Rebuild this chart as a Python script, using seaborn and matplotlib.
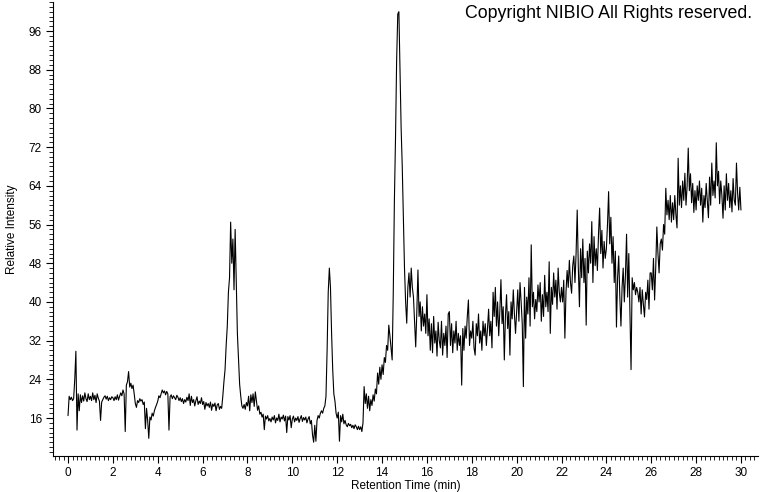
import numpy as np
import pandas as pd
import seaborn as sns
import matplotlib
matplotlib.use("Agg")
import matplotlib.pyplot as plt
from matplotlib.ticker import MultipleLocator

m00 = [16.5, 20.5, 19.8, 20.3, 19.6, 20.0, 24.0, 29.8, 13.5, 21.0, 17.5, 20.8, 19.2, 20.6, 19.5, 21.2, 20.0, 19.4, 21.0, 19.8]
m01 = [20.5, 19.6, 21.2, 19.8, 20.7, 19.2, 21.0, 20.1, 19.5, 15.5, 19.3, 19.8, 20.3, 20.6, 19.9, 20.5, 19.6, 20.2, 19.8, 20.4]
m02 = [20.2, 19.6, 20.4, 19.8, 20.8, 19.7, 20.5, 21.2, 20.6, 21.8, 21.0, 13.2, 22.8, 23.5, 25.6, 22.4, 23.2, 22.1, 22.8, 21.0]
m03 = [19.0, 18.2, 19.6, 19.2, 20.0, 19.5, 19.8, 18.8, 19.3, 13.8, 18.0, 15.5, 11.8, 16.2, 15.6, 17.0, 16.4, 17.5, 18.2, 18.8]
m04 = [19.5, 20.6, 20.2, 21.0, 21.8, 21.2, 21.6, 20.8, 21.5, 21.0, 13.5, 20.4, 20.8, 20.0, 20.6, 20.2, 19.8, 20.7, 20.3, 19.6]
m05 = [20.2, 19.4, 20.0, 19.0, 19.8, 19.3, 20.3, 19.6, 21.0, 18.6, 20.5, 19.2, 19.8, 18.5, 19.6, 20.4, 18.8, 19.5, 19.0, 20.2]
m06 = [18.8, 19.4, 17.8, 19.2, 18.5, 19.0, 18.2, 19.3, 17.6, 18.9, 18.4, 19.1, 17.5, 18.7, 19.0, 17.8, 18.4, 18.0, 20.5, 23.5]
m07 = [26.0, 31.0, 35.0, 42.0, 45.0, 56.5, 48.0, 53.0, 42.5, 55.0, 44.0, 33.5, 28.0, 23.0, 20.5, 18.5, 18.0, 18.8, 17.8, 19.2]
m08 = [18.5, 20.5, 17.5, 20.8, 19.2, 21.0, 18.4, 21.4, 19.5, 17.6, 18.5, 16.8, 17.2, 16.2, 16.8, 13.6, 16.4, 15.8, 16.5, 15.4]
m09 = [15.9, 15.2, 16.2, 15.6, 16.5, 15.0, 16.0, 15.5, 16.8, 15.2, 16.2, 15.8, 16.6, 15.4, 16.4, 13.0, 16.3, 15.6, 16.5, 14.0]
m10 = [15.8, 16.4, 15.2, 16.0, 15.5, 16.3, 15.1, 15.9, 16.5, 15.3, 16.1, 15.6, 16.2, 15.0, 15.8, 16.3, 14.8, 15.5, 12.5, 11.0]
m11 = [14.5, 11.2, 15.5, 16.5, 16.0, 17.0, 17.5, 17.0, 18.0, 18.5, 20.5, 30.0, 42.0, 47.0, 43.0, 33.5, 26.0, 21.0, 19.5, 17.0]
m12 = [16.0, 17.2, 11.2, 16.5, 15.2, 16.8, 14.8, 15.5, 14.6, 14.2, 14.9, 14.4, 14.7, 14.0, 14.5, 13.8, 14.6, 14.2, 13.6, 14.3]
m13 = [13.6, 14.2, 13.2, 15.0, 22.5, 19.0, 21.0, 18.0, 20.5, 17.5, 19.8, 18.6, 20.8, 19.5, 22.0, 21.0, 25.3, 23.0, 26.5, 24.0]
m14 = [27.0, 25.0, 28.5, 27.5, 31.0, 30.0, 35.2, 33.0, 30.5, 28.0, 42.0, 61.0, 74.0, 90.0, 99.5, 100.0, 88.0, 76.0, 68.0, 57.0]
m15 = [47.0, 40.0, 35.6, 43.0, 46.0, 41.0, 47.0, 43.0, 41.0, 36.0, 30.7, 38.0, 46.6, 37.0, 40.0, 34.0, 39.0, 35.0, 37.5, 33.5]
m16 = [41.5, 33.0, 36.5, 30.0, 35.5, 29.5, 37.0, 31.5, 34.0, 28.8, 35.8, 32.0, 30.5, 36.0, 29.0, 33.5, 31.0, 35.0, 28.5, 37.5]
m17 = [38.0, 31.0, 35.5, 29.5, 34.0, 31.5, 36.0, 30.0, 33.5, 31.0, 33.0, 22.8, 34.5, 30.0, 35.0, 32.5, 37.0, 40.4, 31.0, 34.0]
m18 = [32.5, 36.0, 30.5, 29.0, 35.5, 33.0, 37.5, 31.5, 34.0, 30.0, 36.0, 33.0, 35.5, 31.0, 34.5, 38.5, 33.0, 36.0, 30.5, 42.0]
m19 = [37.0, 43.0, 35.0, 40.0, 33.0, 38.0, 44.6, 35.5, 39.0, 28.0, 37.0, 41.5, 34.5, 38.0, 29.0, 40.0, 36.5, 42.5, 37.5, 33.5]
m20 = [38.0, 42.5, 36.0, 44.0, 40.0, 35.5, 22.5, 43.0, 32.5, 41.0, 37.5, 45.0, 35.0, 51.8, 39.0, 42.0, 36.5, 40.5, 38.0, 43.5]
m21 = [40.0, 44.0, 36.0, 41.5, 37.0, 45.5, 39.0, 42.0, 38.0, 48.3, 33.5, 43.0, 39.5, 46.0, 41.0, 44.5, 38.5, 47.0, 42.0, 40.0]
m22 = [43.0, 40.0, 44.5, 32.5, 42.0, 46.5, 43.0, 48.6, 44.0, 41.8, 47.5, 49.5, 44.0, 50.0, 59.0, 47.0, 39.0, 51.0, 45.0, 53.0]
m23 = [44.0, 49.0, 35.2, 50.5, 46.0, 52.0, 48.0, 56.6, 44.0, 53.5, 47.5, 51.0, 46.5, 54.0, 59.4, 50.0, 54.8, 47.0, 52.5, 49.0]
m24 = [51.0, 56.0, 62.8, 52.0, 57.5, 48.0, 53.5, 44.0, 50.5, 34.8, 45.0, 49.5, 41.0, 35.0, 43.0, 47.0, 40.0, 45.5, 54.0, 41.0]
m25 = [50.0, 38.0, 26.0, 45.0, 42.5, 44.0, 41.5, 43.0, 42.0, 40.0, 43.0, 37.5, 42.5, 39.5, 36.9, 42.0, 40.5, 44.5, 38.5, 46.0]
m26 = [46.0, 42.5, 49.0, 40.4, 47.0, 55.5, 50.0, 46.0, 52.0, 53.0, 50.7, 56.0, 54.0, 63.5, 58.0, 61.0, 57.0, 62.0, 56.5, 60.5]
m27 = [57.0, 62.0, 58.0, 55.3, 69.7, 60.0, 64.0, 59.5, 65.0, 61.0, 66.6, 60.0, 64.0, 71.8, 63.0, 66.5, 60.5, 64.5, 58.5, 63.0]
m28 = [59.0, 64.0, 61.0, 65.0, 60.0, 63.5, 56.5, 62.0, 59.5, 64.5, 61.0, 57.4, 65.8, 60.0, 68.7, 62.0, 65.0, 61.5, 72.9, 64.0]
m29 = [67.0, 60.3, 65.0, 62.0, 57.3, 64.0, 59.0, 66.5, 61.0, 64.5, 59.5, 63.0, 58.6, 65.5, 61.0, 60.0, 68.7, 62.5, 59.0, 63.7]
m30 = [59.0]

minutes = [m00, m01, m02, m03, m04, m05, m06, m07, m08, m09, m10, m11, m12, m13, m14,
           m15, m16, m17, m18, m19, m20, m21, m22, m23, m24, m25, m26, m27, m28, m29, m30]
intensity = [v for seg in minutes for v in seg]
time_min = np.round(np.arange(len(intensity)) * 0.05, 2)

x_ticks = list(range(0, 31, 2))
y_ticks = list(range(16, 97, 8))

df = pd.DataFrame({"Retention Time (min)": time_min, "Relative Intensity": intensity})

sns.set_style("ticks")
plt.rcParams["font.family"] = ["Liberation Sans", "DejaVu Sans"]
plt.rcParams["text.color"] = "black"
plt.rcParams["axes.labelcolor"] = "black"
plt.rcParams["xtick.color"] = "black"
plt.rcParams["ytick.color"] = "black"

fig = plt.figure(figsize=(7.6, 4.92), dpi=100)
ax = fig.add_axes([53 / 760, 36 / 492, 705 / 760, 454 / 492])
sns.lineplot(data=df, x="Retention Time (min)", y="Relative Intensity", ax=ax,
             color="black", linewidth=0.8, estimator=None, sort=False)

ax.set_xlim(-0.67, 30.76)
ax.set_ylim(8.15, 102.0)
ax.set_xticks(x_ticks)
ax.set_yticks(y_ticks)
ax.xaxis.set_minor_locator(MultipleLocator(0.2))
ax.yaxis.set_minor_locator(MultipleLocator(1))
ax.tick_params(axis="both", which="major", length=5, width=0.8, labelsize=8.5,
               color="black", labelcolor="black", pad=3)
ax.tick_params(axis="both", which="minor", length=3, width=0.6, color="black")
for s in ["top", "right"]:
    ax.spines[s].set_visible(False)
for s in ["left", "bottom"]:
    ax.spines[s].set_linewidth(0.8)
    ax.spines[s].set_color("black")
ax.set_xlabel("Retention Time (min)", fontsize=8.5, labelpad=1, color="black")
ax.set_ylabel("Relative Intensity", fontsize=8.5, labelpad=8, color="black")

fig.text(752 / 760, 1 - 14 / 492, "Copyright NIBIO All Rights reserved.", ha="right", va="center",
         fontsize=12.8, color="black")

fig.savefig("out.png", dpi=100)
